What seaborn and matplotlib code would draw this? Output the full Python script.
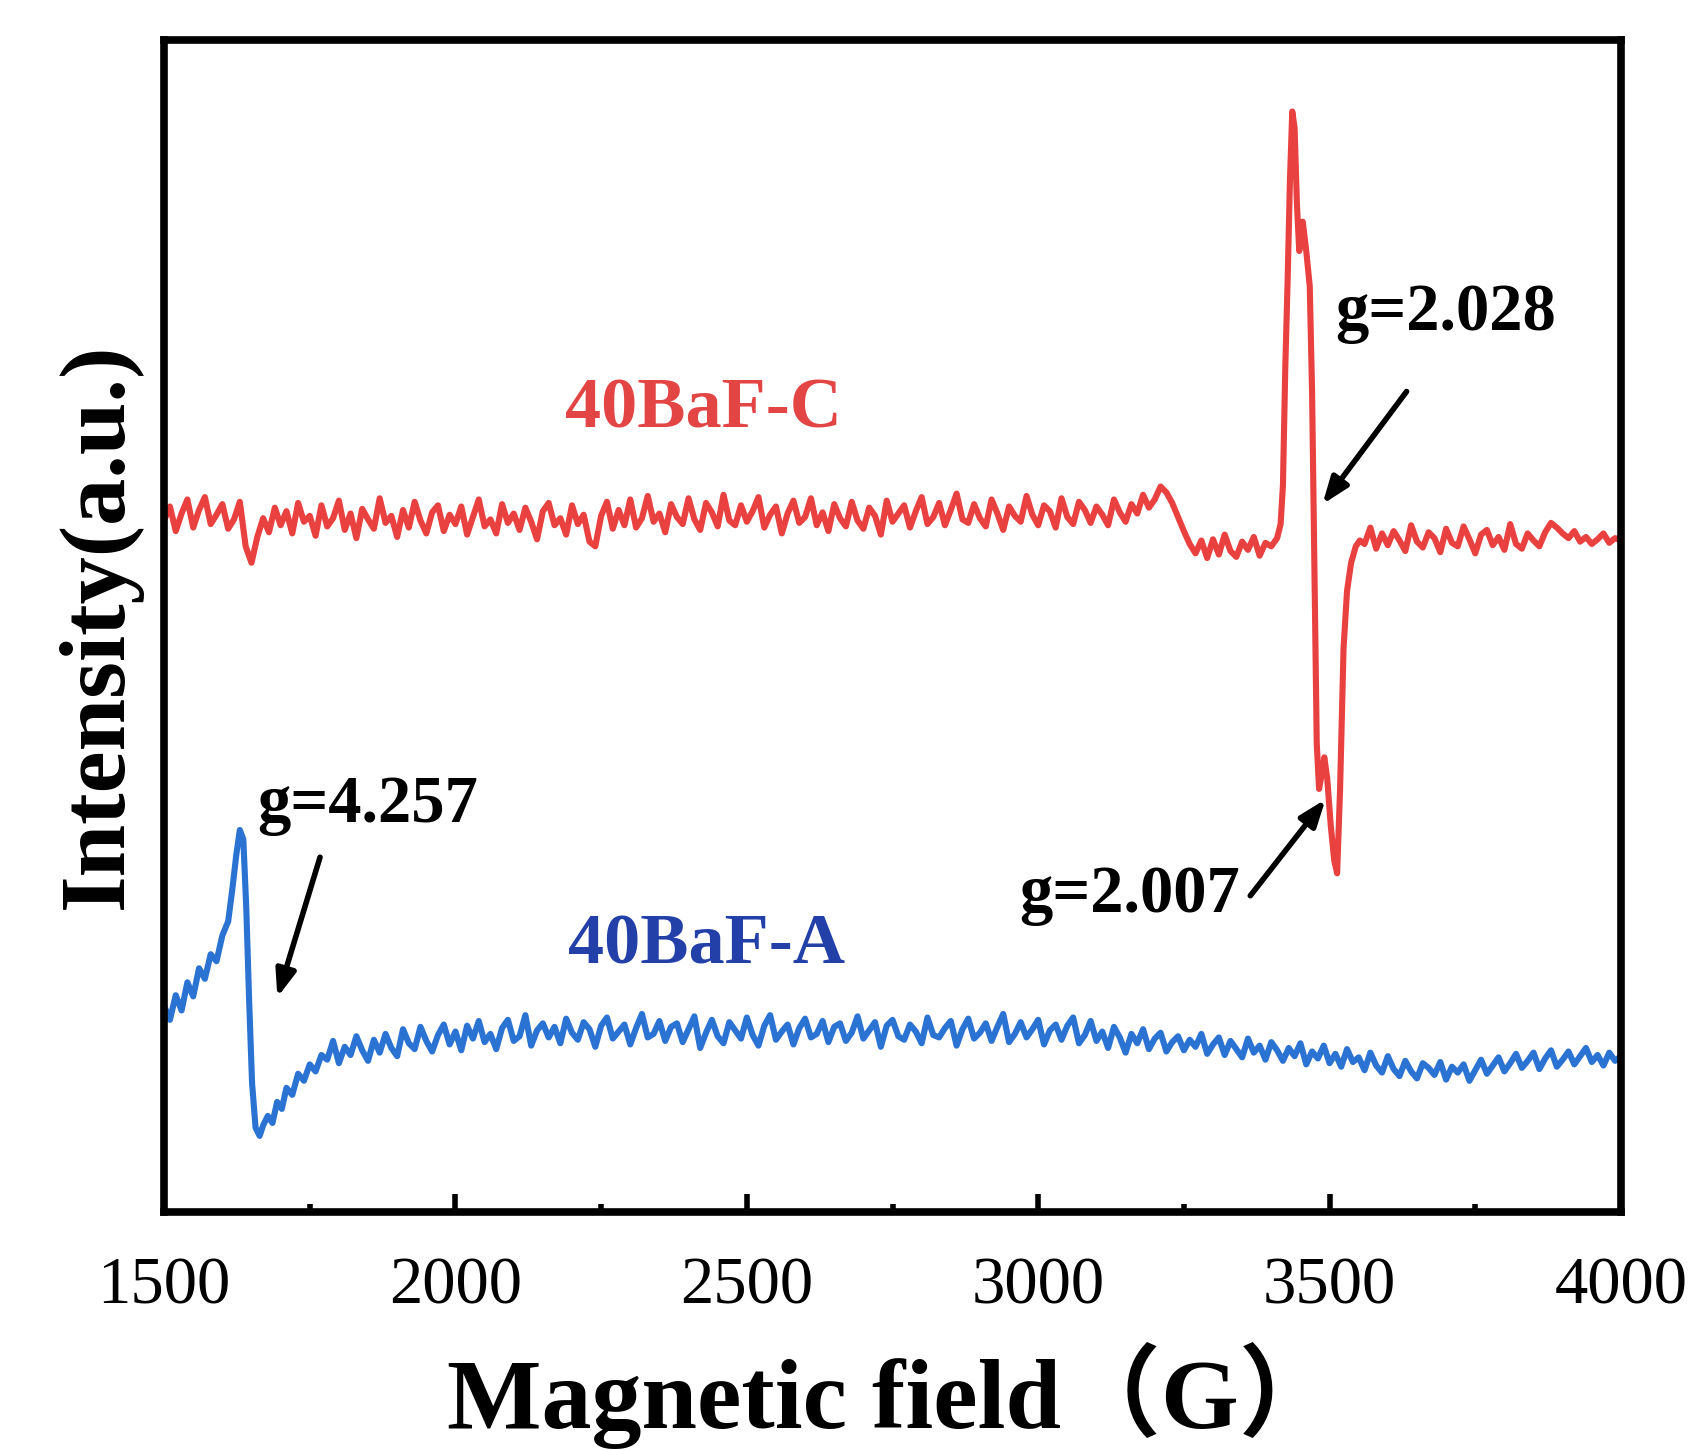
import numpy as np
import matplotlib
matplotlib.use('Agg')
import matplotlib.pyplot as plt
import seaborn as sns
from matplotlib.ticker import MultipleLocator

# ---- 40BaF-C (red) : intensity, a.u. 0-100 ----
red_base_start = 1500  # field of first baseline value, step 10 G
red_base = [
    59.0, 60.2, 58.1, 59.6, 60.8, 58.4, 59.9, 61.0, 58.7, 59.5,
    60.4, 58.3, 59.1, 60.6, 56.8, 55.4, 57.6, 59.2, 58.0, 60.1,
    58.6, 59.8, 57.9, 60.5, 58.9, 59.4, 57.7, 60.3, 58.5, 59.2,
    60.7, 58.2, 59.6, 57.5, 60.0, 59.1, 58.3, 60.9, 58.8, 59.4,
    57.6, 59.9, 58.4, 60.6, 59.0, 57.9, 59.7, 60.3, 58.1, 59.5,
    58.7, 60.2, 57.8, 59.3, 60.8, 58.5, 59.1, 57.9, 60.4, 58.8,
    59.6, 58.2, 60.1, 58.9, 57.4, 59.8, 60.5, 58.6, 59.2, 57.8,
    60.3, 58.7, 59.5, 57.2, 56.8, 59.4, 60.6, 58.3, 59.9, 58.6,
    60.8, 58.4, 59.2, 61.1, 58.9, 59.6, 58.0, 60.4, 59.3, 58.7,
    60.9, 59.1, 58.2, 60.5, 59.7, 58.5, 61.2, 59.0, 58.6, 60.3,
    58.9, 59.8, 61.0, 58.4, 59.5, 60.2, 57.9, 59.6, 60.7, 58.8,
    59.3, 60.9, 58.6, 59.7, 58.1, 60.4, 59.2, 58.5, 60.6, 59.0,
    58.3, 60.1, 59.4, 57.8, 60.7, 58.9, 59.6, 60.3, 58.4, 59.8,
    61.0, 58.7, 59.3, 60.5, 58.6, 59.9, 61.3, 59.1, 58.8, 60.4,
    59.2, 58.5, 60.8, 59.6, 58.2, 60.2, 59.4, 58.9, 61.1, 59.5,
    58.6, 60.3, 59.8, 58.4, 60.9, 59.3, 58.7, 60.6, 59.9, 58.8,
    60.2, 59.5, 58.6, 60.8, 59.7, 58.9, 60.4, 59.6, 61.2, 60.1,
    60.8, 61.9, 61.4, 60.5, 59.3, 58.1, 57.0, 56.2, 57.3, 55.8,
    57.4, 56.1, 57.8, 56.4, 55.9, 57.2, 56.5, 57.6, 56.0, 57.1,
    56.8, 57.5,
]
red_peak_field = [3416, 3420, 3424, 3428, 3432, 3436, 3440, 3444, 3448, 3454,
                  3460, 3466, 3470, 3474, 3478, 3482, 3487, 3491, 3496, 3502,
                  3508, 3513, 3518, 3524, 3530, 3537, 3545, 3552]
red_peak_int = [58.7, 62.0, 72.0, 79.4, 88.0, 93.9, 92.5, 86.0, 82.0, 84.5,
                82.0, 79.0, 70.0, 55.0, 40.0, 36.1, 37.5, 38.8, 37.0, 33.0,
                30.0, 28.9, 36.0, 48.1, 53.0, 55.4, 56.8, 57.3]
red_tail_start = 3560
red_tail = [
    57.0, 58.4, 56.6, 57.9, 56.9, 58.1, 57.3, 56.4, 58.6, 57.2,
    56.7, 58.0, 57.5, 56.3, 58.3, 57.1, 56.8, 58.5, 57.4, 56.2,
    57.8, 58.2, 56.9, 57.6, 56.5, 58.7, 57.0, 56.6, 57.9, 57.3,
    56.8, 58.0, 58.8, 58.4, 57.9, 57.5, 58.1, 57.2, 57.6, 57.0,
    57.4, 57.9, 57.1, 57.5, 57.3,
]

# ---- 40BaF-A (blue) ----
blue_head_field = [1500, 1510, 1520, 1530, 1540, 1550, 1560, 1570, 1580, 1590,
                   1600, 1610, 1617, 1624, 1630, 1636, 1641, 1646, 1651, 1657,
                   1664, 1670, 1678, 1686, 1694, 1702, 1710, 1720, 1730, 1740,
                   1750, 1760, 1770]
blue_head_int = [17.6, 16.4, 18.5, 17.2, 19.6, 18.4, 20.8, 19.9, 22.0, 21.4,
                 23.6, 24.8, 27.5, 30.5, 32.6, 31.8, 26.0, 18.0, 11.0, 7.2,
                 6.5, 7.4, 8.2, 7.6, 9.4, 8.8, 10.6, 10.0, 11.8, 11.2,
                 12.6, 12.0, 13.4]
blue_base_start = 1780
blue_base = [
    13.0, 14.6, 12.7, 14.1, 13.4, 15.0, 13.8, 12.9, 14.7, 13.6,
    15.2, 14.0, 13.3, 15.6, 14.4, 13.9, 15.8, 14.6, 13.7, 15.1,
    16.0, 14.3, 15.4, 13.8, 15.9, 14.8, 16.3, 14.5, 15.2, 13.9,
    15.7, 16.4, 14.6, 15.0, 16.8, 14.2, 15.5, 16.1, 14.9, 15.8,
    14.4, 16.5, 15.3, 14.7, 16.2, 15.6, 14.1, 15.9, 16.6, 14.8,
    15.4, 16.0, 14.3, 15.7, 16.9, 14.9, 15.2, 16.3, 14.6, 15.8,
    16.1, 14.5, 15.6, 16.7, 14.0, 15.3, 16.4, 15.0, 14.4, 16.2,
    15.5, 14.8, 16.6, 15.1, 14.2, 15.9, 16.8, 14.7, 15.4, 16.0,
    14.3, 15.7, 16.5, 14.9, 15.2, 16.3, 14.5, 15.8, 16.1, 14.6,
    15.3, 16.7, 14.8, 15.5, 16.2, 14.1, 15.9, 16.4, 15.0, 14.7,
    16.0, 15.4, 14.4, 16.6, 15.1, 14.9, 15.7, 16.3, 14.2, 15.6,
    16.5, 14.8, 15.3, 16.1, 14.6, 15.8, 16.9, 14.5, 15.2, 16.2,
    14.9, 15.6, 16.4, 14.3, 15.5, 16.0, 14.7, 15.9, 16.6, 14.4,
    15.1, 16.3, 14.6, 15.4, 14.0, 15.8, 14.9, 13.6, 15.2, 14.4,
    15.6, 13.9, 14.8, 15.3, 13.7, 14.5, 15.0, 13.8, 14.7, 14.1,
    15.2, 13.5, 14.3, 14.9, 13.4, 14.6, 13.9, 13.2, 14.8, 13.6,
    14.2, 13.0, 14.5, 13.8, 12.9, 14.0, 13.3, 14.4, 12.6, 13.7,
    13.1, 14.2, 12.7, 13.5, 12.4, 13.9, 12.8, 13.2, 12.1, 13.6,
    12.5, 11.9, 13.3, 12.2, 11.6, 12.9, 12.0, 11.4, 12.7, 12.3,
    11.7, 12.8, 11.3, 12.4, 11.9, 12.6, 11.2, 12.1, 13.0, 11.8,
    12.5, 13.2, 12.0, 12.7, 13.5, 12.3, 12.9, 13.6, 12.2, 13.1,
    13.8, 12.4, 13.0, 13.7, 12.6, 13.3, 14.0, 12.8, 13.4, 12.5,
    13.6, 12.9, 13.3,
]

xticks = [1500, 2000, 2500, 3000, 3500, 4000]

# g-value labels: text position, arrow tail, arrow tip
g_labels = ['g=2.028', 'g=2.007', 'g=4.257']
g_text_xy = [(3700, 76.7), (3157, 27.0), (1849, 34.7)]
g_tail_xy = [(3635, 70.2), (3361, 26.8), (1769, 30.5)]
g_tip_xy = [(3485, 60.2), (3496, 35.4), (1693, 18.1)]

red_field = np.concatenate([red_base_start + 10 * np.arange(len(red_base)),
                            red_peak_field,
                            red_tail_start + 10 * np.arange(len(red_tail))])
red_int = np.concatenate([red_base, red_peak_int, red_tail])
blue_field = np.concatenate([blue_head_field,
                             blue_base_start + 10 * np.arange(len(blue_base))])
blue_int = np.concatenate([blue_head_int, blue_base])

sns.set_style('white')
plt.rcParams['font.family'] = ['Liberation Serif', 'Noto Sans CJK SC']
plt.rcParams['text.color'] = 'black'
plt.rcParams['axes.labelcolor'] = 'black'
plt.rcParams['xtick.color'] = 'black'

fig = plt.figure(figsize=(16.95, 14.5), dpi=100)
ax = fig.add_axes([0.0968, 0.1641, 0.8595, 0.8083])

sns.lineplot(x=red_field, y=red_int, color='#e8413f', lw=4.4, ax=ax, sort=False)
sns.lineplot(x=blue_field, y=blue_int, color='#2a73d3', lw=4.4, ax=ax, sort=False)

ax.set_xlim(1500, 4000)
ax.set_ylim(0, 100)
ax.set_yticks([])
ax.set_xticks(xticks)
ax.xaxis.set_minor_locator(MultipleLocator(250))
ax.tick_params(axis='x', which='major', direction='in', length=13, width=4,
               labelsize=48, pad=32, bottom=True, top=False, colors='black')
ax.tick_params(axis='x', which='minor', direction='in', length=6, width=4,
               bottom=True, top=False, colors='black')
for s in ax.spines.values():
    s.set_linewidth(5.5)
    s.set_color('black')

ax.set_xlabel('Magnetic field（G）', fontsize=72, fontweight='bold', labelpad=18)
ax.set_ylabel('Intensity(a.u.)', fontsize=68, fontweight='bold', labelpad=16)

ax.text(2426, 68.4, '40BaF-C', color='#e34444', fontsize=52, fontweight='bold',
        ha='center', va='center')
ax.text(2430, 22.7, '40BaF-A', color='#2340a8', fontsize=52, fontweight='bold',
        ha='center', va='center')

for lab, txy, tail, tip in zip(g_labels, g_text_xy, g_tail_xy, g_tip_xy):
    ax.text(txy[0], txy[1], lab, fontsize=48, fontweight='bold', ha='center', va='center')
    ax.annotate('', xy=tip, xytext=tail,
                arrowprops=dict(arrowstyle='-|>,head_length=1.6,head_width=0.6',
                                color='black', lw=4))

fig.savefig('out.png', dpi=100)
